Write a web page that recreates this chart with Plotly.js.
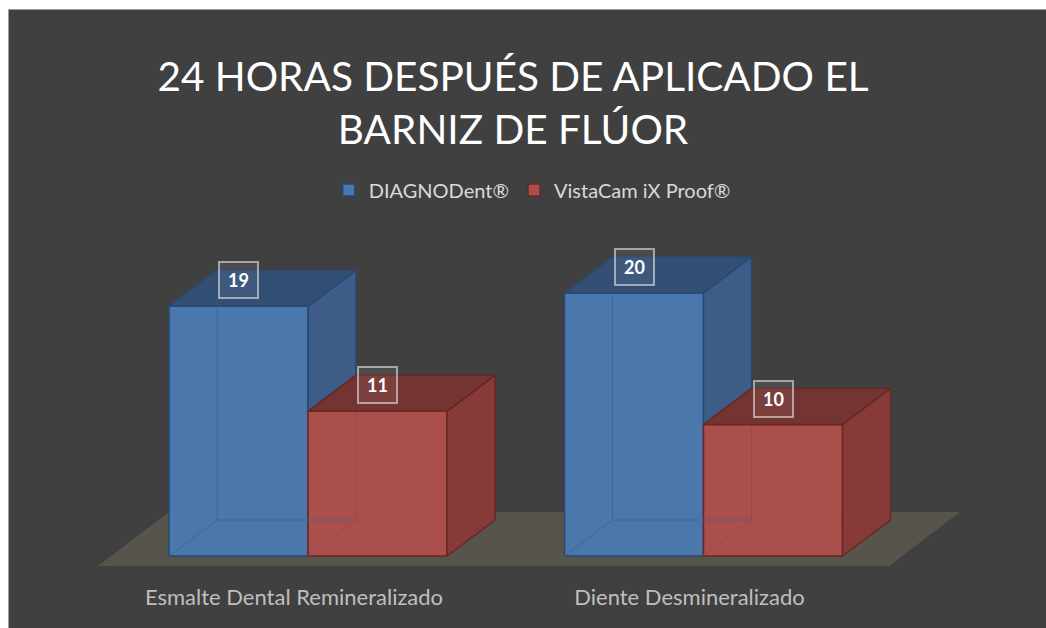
<!DOCTYPE html>
<html><head><meta charset="utf-8">
<script src="https://cdn.plot.ly/plotly-3.0.1.min.js"></script>
<style>
html,body{margin:0;padding:0;background:#ffffff;width:1046px;height:628px;overflow:hidden}
#chart{position:absolute;left:8px;top:9px;width:1038px;height:619px}
.edgeT{position:absolute;left:8px;top:9px;width:1038px;height:1px;background:#9c9c9c;z-index:5}
.edgeL{position:absolute;left:8px;top:9px;width:1px;height:619px;background:#9c9c9c;z-index:5}
</style></head><body>
<div id="chart"></div><div class="edgeT"></div><div class="edgeL"></div>
<script>
// ---- data ----
const categories = ["Esmalte Dental Remineralizado", "Diente Desmineralizado"];
const seriesNames = ["DIAGNODent®", "VistaCam iX Proof®"];
const diagnodent = [19, 20];
const vistacam = [11, 10];
const chartTitle = "24 HORAS DESPUÉS DE APLICADO EL<br>BARNIZ DE FLÚOR";

// ---- geometry / style ----
const W_DIV = 1038, H_DIV = 619, MB = 46;
const PLOT_H = H_DIV - MB;
const CAT0_PX = 300, CAT_PX = 395.5;     // category centre position & spacing (px)
const ZERO_PY = 547, UNIT_PX = 13.15;    // value-0 baseline & px per unit
const BAR_W = 139 / CAT_PX;              // bar width in category units
const DX = 48 / CAT_PX, DV = 36 / UNIT_PX; // oblique depth offset
const LABEL_SHIFT = -14 / CAT_PX;
const FONT = "Lato, 'Open Sans', sans-serif";

const colors = {
  bg: "#404040", floor: "#57544b",
  s: [
    {front: "#4a78ad", top: "#344f74", side: "#3d5d88", edge: "#2a4870", inner: "rgba(60,100,150,0.9)"},
    {front: "#ab4f4c", top: "#733432", side: "#873b39", edge: "#6a2624", inner: "rgba(160,70,66,0.9)"}
  ]
};
const series = [diagnodent, vistacam];

const xRange = [-CAT0_PX / CAT_PX, (W_DIV - CAT0_PX) / CAT_PX];
const yRange = [-(PLOT_H - ZERO_PY) / UNIT_PX, ZERO_PY / UNIT_PX];

const traces = [];
// front faces as bars (also legend)
series.forEach((vals, s) => {
  traces.push({
    type: "bar", name: seriesNames[s],
    x: categories.map((c, i) => i + (s === 0 ? -BAR_W / 2 : BAR_W / 2)),
    y: vals, width: BAR_W,
    marker: {color: colors.s[s].front, line: {color: colors.s[s].edge, width: 1.5}},
    hoverinfo: "skip"
  });
});

function poly(xs, ys, fill, line) {
  traces.push({type: "scatter", mode: "lines", x: xs.concat([xs[0]]), y: ys.concat([ys[0]]),
    fill: "toself", fillcolor: fill, line: {color: line, width: 1.5}, showlegend: false, hoverinfo: "skip"});
}
function seg(xs, ys, color) {
  traces.push({type: "scatter", mode: "lines", x: xs, y: ys, line: {color: color, width: 1},
    showlegend: false, hoverinfo: "skip"});
}

categories.forEach((c, i) => {
  series.forEach((vals, s) => {
    const v = vals[i];
    const x0 = i + (s === 0 ? -BAR_W : 0);
    const x1 = x0 + BAR_W;
    // inner (back) edges seen through the translucent box
    seg([x0, x0 + DX, x1 + DX], [0, DV, DV], colors.s[s].inner);
    seg([x0 + DX, x0 + DX], [DV, v + DV], colors.s[s].inner);
    // side face (hidden below the neighbouring bar on the right)
    const hidden = (s + 1 < series.length) ? Math.min(series[s + 1][i], v) : 0;
    poly([x1, x1, x1 + DX, x1 + DX], [hidden, v, v + DV, hidden + DV], colors.s[s].side, colors.s[s].edge);
    // top face
    poly([x0, x1, x1 + DX, x0 + DX], [v, v, v + DV, v + DV], colors.s[s].top, colors.s[s].edge);
  });
});

// value labels
const annotations = [];
series.forEach((vals, s) => {
  vals.forEach((v, i) => {
    annotations.push({
      x: i + (s === 0 ? -BAR_W / 2 : BAR_W / 2), y: v + 26 / UNIT_PX, xref: "x", yref: "y",
      text: "<b>" + v + "</b>", showarrow: false,
      font: {family: FONT, size: 18, color: "#ffffff"},
      bordercolor: "rgba(230,230,230,0.6)", borderwidth: 2, borderpad: 2,
      width: 33, height: 30, bgcolor: "rgba(255,255,255,0.06)"
    });
  });
});

// floor (drawn below everything)
const FL = -0.531, FR = 1.469, FF = -0.76, FDX = 71 / CAT_PX, FDV = 54 / UNIT_PX;
const floorPath = `M${FL},${FF} L${FR},${FF} L${FR + FDX},${FF + FDV} L${FL + FDX},${FF + FDV} Z`;

const layout = {
  width: W_DIV, height: H_DIV,
  margin: {l: 0, r: 0, t: 0, b: MB, pad: 0},
  paper_bgcolor: colors.bg, plot_bgcolor: "rgba(0,0,0,0)",
  barmode: "overlay", bargap: 0,
  hovermode: false,
  title: {
    text: chartTitle, xref: "container", yref: "container",
    x: 505 / W_DIV, xanchor: "center", y: 1 - 82 / H_DIV, yanchor: "top",
    font: {family: FONT, size: 40.5, color: "#ffffff"}
  },
  legend: {
    orientation: "h", x: 0.505, xanchor: "center", y: 1 - 181 / PLOT_H, yanchor: "middle",
    font: {family: FONT, size: 20, color: "#d9d9d9"},
    bgcolor: "rgba(0,0,0,0)", traceorder: "normal"
  },
  xaxis: {
    range: xRange, showgrid: false, zeroline: false, showline: false, ticks: "",
    tickvals: categories.map((c, i) => i + LABEL_SHIFT), ticktext: categories,
    tickfont: {family: FONT, size: 22, color: "#bfbfbf"},
    fixedrange: true
  },
  yaxis: {range: yRange, visible: false, fixedrange: true},
  shapes: [{type: "path", xref: "x", yref: "y", path: floorPath, fillcolor: colors.floor,
    line: {width: 0}, layer: "below"}],
  annotations: annotations
};

Plotly.newPlot("chart", traces, layout, {displayModeBar: false, staticPlot: true});
</script>
</body></html>
